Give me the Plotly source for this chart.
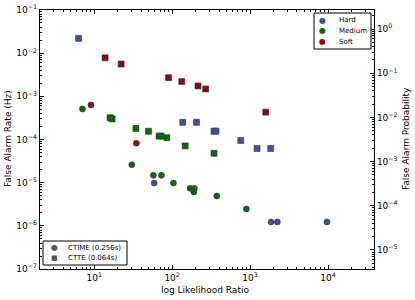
import plotly.graph_objects as go

# ---- data (log likelihood ratio, false alarm rate in Hz) ----
hard_ctime_x = [58.8, 193, 1860, 2240, 9700]
hard_ctime_y = [9.8e-6, 7.4e-6, 1.23e-6, 1.23e-6, 1.23e-6]
hard_ctte_x = [6.3, 137, 205, 345, 366, 760, 1230, 1840]
hard_ctte_y = [0.022, 2.5e-4, 2.5e-4, 1.56e-4, 1.56e-4, 9.5e-5, 6.2e-5, 6.2e-5]

medium_ctime_x = [7.08, 30.4, 57.5, 73, 104, 170, 190, 374, 897]
medium_ctime_y = [5.1e-4, 2.6e-5, 1.48e-5, 1.48e-5, 9.8e-6, 7.4e-6, 6.1e-6, 4.9e-6, 2.45e-6]
medium_ctte_x = [16.0, 17.0, 34.3, 49.7, 68, 72.3, 85.5, 147, 345]
medium_ctte_y = [3.2e-4, 3.0e-4, 1.8e-4, 1.55e-4, 1.2e-4, 1.2e-4, 1.1e-4, 7.1e-5, 4.8e-5]

soft_ctime_x = [9.1, 34.8]
soft_ctime_y = [6.3e-4, 8.2e-5]
soft_ctte_x = [13.8, 22.2, 90, 133, 215, 270, 1590]
soft_ctte_y = [7.8e-3, 5.6e-3, 2.7e-3, 2.2e-3, 1.74e-3, 1.48e-3, 4.3e-4]

categories = ["Hard", "Medium", "Soft"]
colors = {"Hard": "#3b5698", "Medium": "#0a6a0a", "Soft": "#8c0b0b"}
data = {
    "Hard": (hard_ctime_x, hard_ctime_y, hard_ctte_x, hard_ctte_y),
    "Medium": (medium_ctime_x, medium_ctime_y, medium_ctte_x, medium_ctte_y),
    "Soft": (soft_ctime_x, soft_ctime_y, soft_ctte_x, soft_ctte_y),
}
methods = ["CTIME (0.256s)", "CTTE (0.064s)"]
method_glyphs = ["●", "■"]

# tick labels
x_exps = [1, 2, 3, 4]
y_exps = [-7, -6, -5, -4, -3, -2, -1]
y2_exps = [-5, -4, -3, -2, -1, 0]

x_title = "log Likelihood Ratio"
y_title = "False Alarm Rate (Hz)"
y2_title = "False Alarm Probability"


def pow_text(e):
    s = str(e).replace("-", "\u2212")
    return "10<sup>" + s + "</sup>"


FONT = "DejaVu Sans"
W, H = 415, 300
ML, MR, MT, MB = 40, 41, 10, 31
PW, PH = W - ML - MR, H - MT - MB

def px(x):  # pixel -> paper x
    return (x - ML) / PW

def py(y):  # pixel -> paper y
    return (H - MB - y) / PH

fig = go.Figure()
edge = dict(color="#333333", width=0.6)

for cat in categories:
    cx, cy, sx, sy = data[cat]
    fig.add_trace(go.Scatter(x=sx, y=sy, mode="markers", showlegend=False,
                             marker=dict(symbol="square", size=6, color=colors[cat], line=edge)))
    fig.add_trace(go.Scatter(x=cx, y=cy, mode="markers", showlegend=False,
                             marker=dict(symbol="circle", size=6, color=colors[cat], line=edge)))

# right axis anchor trace (invisible)
fig.add_trace(go.Scatter(x=[None], y=[None], yaxis="y2", showlegend=False, hoverinfo="skip"))

axis_common = dict(type="log", showgrid=False, zeroline=False,
                   showline=True, linecolor="black", linewidth=1.2,
                   ticks="inside", ticklen=4, tickcolor="black",
                   tickfont=dict(family=FONT, size=9, color="black"),
                   minor=dict(ticks="inside", ticklen=2, tickcolor="black", dtick="D1",
                              showgrid=False))

def tickset(exps):
    return dict(tickmode="array", tickvals=[10.0 ** e for e in exps],
                ticktext=[pow_text(e) for e in exps])

annotations = []
shapes = []
# axis titles
annotations.append(dict(xref="paper", yref="paper", x=px(205), y=py(290), text=x_title,
                        showarrow=False, xanchor="center", yanchor="middle",
                        font=dict(family=FONT, size=9, color="black")))
annotations.append(dict(xref="paper", yref="paper", x=px(8), y=py(139), text=y_title,
                        showarrow=False, xanchor="center", yanchor="middle", textangle=-90,
                        font=dict(family=FONT, size=9, color="black")))
annotations.append(dict(xref="paper", yref="paper", x=px(406), y=py(139), text=y2_title,
                        showarrow=False, xanchor="center", yanchor="middle", textangle=-90,
                        font=dict(family=FONT, size=9, color="black")))
# legend: categories (top right)
shapes.append(dict(type="rect", xref="paper", yref="paper",
                   x0=px(314), x1=px(371), y0=py(49), y1=py(13),
                   line=dict(color="black", width=1), fillcolor="white", layer="above"))
for i, cat in enumerate(categories):
    yy = py(20 + 11 * i)
    annotations.append(dict(xref="paper", yref="paper", x=px(322), y=yy, text="●",
                            showarrow=False, xanchor="center", yanchor="middle",
                            font=dict(family=FONT, size=8, color=colors[cat])))
    annotations.append(dict(xref="paper", yref="paper", x=px(337), y=yy, text=cat,
                            showarrow=False, xanchor="left", yanchor="middle",
                            font=dict(family=FONT, size=7, color="black")))
# legend: methods (bottom left)
shapes.append(dict(type="rect", xref="paper", yref="paper",
                   x0=px(43), x1=px(127), y0=py(265), y1=py(241),
                   line=dict(color="black", width=1), fillcolor="white", layer="above"))
for i, (m, g) in enumerate(zip(methods, method_glyphs)):
    yy = py(248 + 10 * i)
    annotations.append(dict(xref="paper", yref="paper", x=px(54), y=yy, text=g,
                            showarrow=False, xanchor="center", yanchor="middle",
                            font=dict(family=FONT, size=8 if i == 0 else 7, color="#555555")))
    annotations.append(dict(xref="paper", yref="paper", x=px(66), y=yy, text=m,
                            showarrow=False, xanchor="left", yanchor="middle",
                            font=dict(family=FONT, size=7, color="black")))

fig.update_layout(
    width=W, height=H,
    margin=dict(l=ML, r=MR, t=MT, b=MB, autoexpand=False),
    plot_bgcolor="white", paper_bgcolor="white",
    font=dict(family=FONT, size=9, color="black"),
    showlegend=False,
    xaxis=dict(**axis_common, **tickset(x_exps), range=[0.305, 4.59], mirror="ticks"),
    yaxis=dict(**axis_common, **tickset(y_exps), range=[-7, -1], mirror=True),
    yaxis2=dict(**axis_common, **tickset(y2_exps), range=[-5.43, 0.43],
                overlaying="y", side="right"),
    annotations=annotations,
    shapes=shapes,
)

# remove the browser's default 8px page margin so the figure sits at the window origin
fig.write_html("out.html", config={"displayModeBar": False},
               post_script="document.body.style.margin='0px';")
